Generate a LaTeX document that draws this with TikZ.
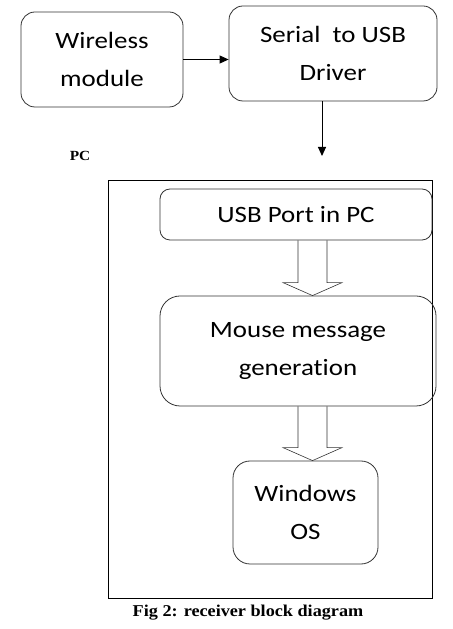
\documentclass[tikz,border=0pt]{standalone}
\usepackage{fontspec}
\setmainfont{Liberation Serif}
\newfontfamily\boxfont[FakeStretch=1.15,Ligatures=NoCommon]{Carlito}
\newfontfamily\capfont[FakeStretch=1.1]{Liberation Serif}
\usetikzlibrary{arrows.meta,calc}
\tikzset{
  blk/.style={draw=black!80,line width=0.8bp,rounded corners=14bp,align=center,inner sep=0pt,
    font=\boxfont\fontsize{23.5}{38}\selectfont},
  >={Triangle[length=9bp,width=8bp]}
}
% hollow block arrow from #1 (open end) to #2 (tip)
\newcommand{\hollowarrow}[2]{%
  \draw[line width=0.6bp,draw=black!80] ($(#1)+(-14.5bp,0)$) -- ($(#2)+(-14.5bp,13bp)$) -- ($(#2)+(-29.5bp,13bp)$) -- (#2)
    -- ($(#2)+(29.5bp,13bp)$) -- ($(#2)+(14.5bp,13bp)$) -- ($(#1)+(14.5bp,0)$);}
\begin{document}
\begin{tikzpicture}
  \useasboundingbox (0,0) rectangle (453bp,629bp);
  \node (wls) at (102bp,569.5bp) [blk,minimum width=162bp,minimum height=95bp] {Wireless\\module};
  \node (ser) at (333bp,575.5bp) [blk,minimum width=208bp,minimum height=95bp] {Serial\ \ to USB\\Driver};
  \node (pclbl) at (80bp,473bp) [font=\capfont\bfseries\fontsize{14}{16}\selectfont] {PC};
  \node (pc) at (270bp,240bp) [draw,line width=0.6bp,inner sep=0pt,minimum width=324bp,minimum height=418bp] {};
  \node (usb) at (296bp,414.5bp) [blk,rounded corners=10bp,minimum width=272bp,minimum height=51bp] {USB Port in PC};
  \node (msg) at (298bp,278bp) [blk,rounded corners=20bp,minimum width=276bp,minimum height=110bp] {Mouse message\\generation};
  \node (win) at (305.5bp,116.5bp) [blk,rounded corners=17bp,minimum width=145bp,minimum height=103bp] {Windows\\OS};
  \node (cap) at (248bp,16bp) [font=\capfont\bfseries\fontsize{16.6}{18}\selectfont] {Fig 2: receiver block diagram};
  \coordinate (pcin) at (322bp,473bp);
  \coordinate (col) at (312.5bp,0bp);
  \draw [->,line width=0.8bp] (wls.east) -- (wls.east -| ser.west);
  \draw [->,line width=1bp] (ser.south -| pcin) -- (pcin);
  \coordinate (a1s) at (usb.south -| col);
  \coordinate (a1e) at (msg.north -| col);
  \coordinate (a2s) at (msg.south -| col);
  \coordinate (a2e) at (win.north -| col);
  \hollowarrow{a1s}{a1e}
  \hollowarrow{a2s}{a2e}
\end{tikzpicture}
\end{document}
